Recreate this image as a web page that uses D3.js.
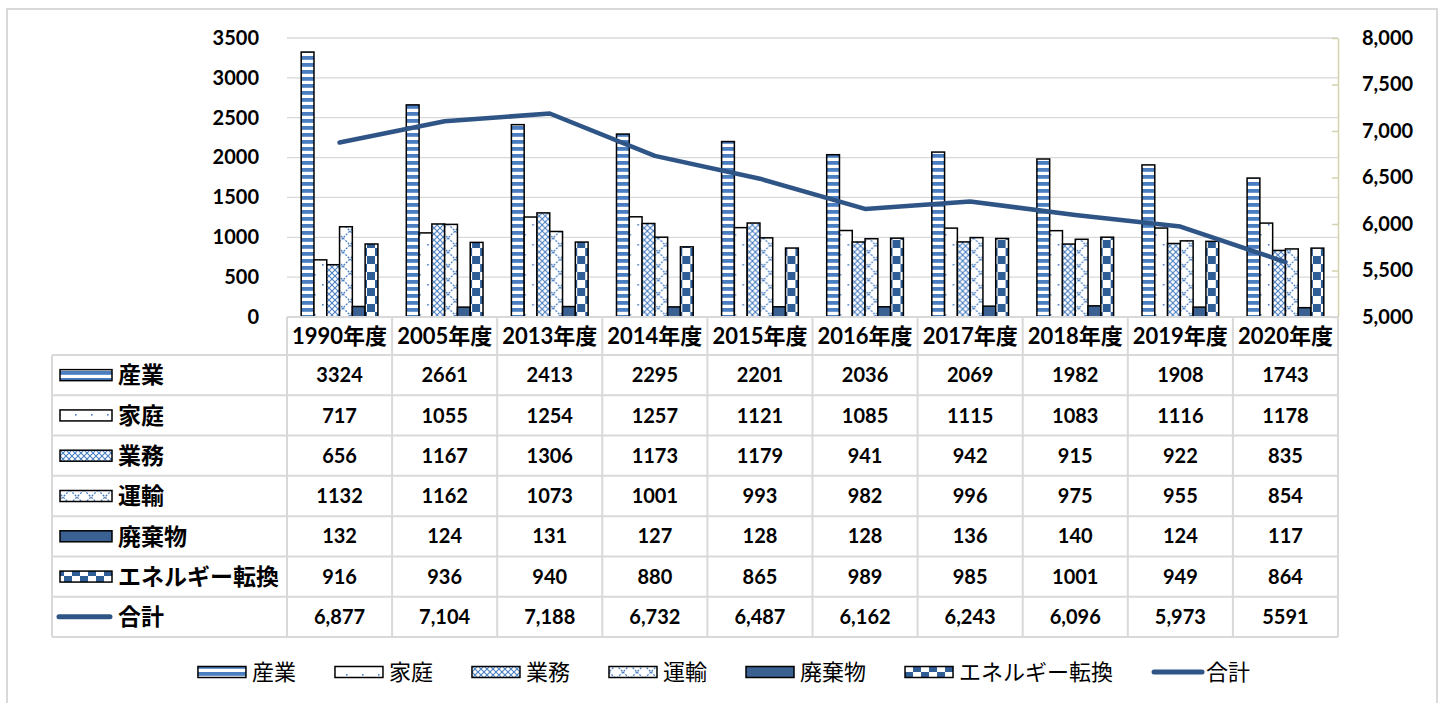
<!DOCTYPE html>
<html><head><meta charset="utf-8">
<script src="https://cdn.jsdelivr.net/npm/d3@7"></script>
<style>
body{margin:0;background:#fff}
svg{display:block}
text{font-family:Lato,"Noto Sans CJK JP",sans-serif;fill:#000}
</style>
</head><body>
<svg id="c" width="1442" height="703"></svg>
<script>
const categories = ["1990年度","2005年度","2013年度","2014年度","2015年度","2016年度","2017年度","2018年度","2019年度","2020年度"];
const seriesNames = ["産業","家庭","業務","運輸","廃棄物","エネルギー転換"];
const sangyo = [3324,2661,2413,2295,2201,2036,2069,1982,1908,1743];
const katei = [717,1055,1254,1257,1121,1085,1115,1083,1116,1178];
const gyomu = [656,1167,1306,1173,1179,941,942,915,922,835];
const unyu = [1132,1162,1073,1001,993,982,996,975,955,854];
const haikibutsu = [132,124,131,127,128,128,136,140,124,117];
const energy = [916,936,940,880,865,989,985,1001,949,864];
const totalName = "合計";
const totals = [6877,7104,7188,6732,6487,6162,6243,6096,5973,5591];
const totalLabels = ["6,877","7,104","7,188","6,732","6,487","6,162","6,243","6,096","5,973","5591"];
const leftTicks = [0,500,1000,1500,2000,2500,3000,3500];
const rightTicks = [5000,5500,6000,6500,7000,7500,8000];

const seriesValues = [sangyo, katei, gyomu, unyu, haikibutsu, energy];

const svg = d3.select("#c");
const plotL = 287, plotR = 1338, plotT = 38, plotB = 317;
const tableL = 52, headB = 355, tableB = 637;
const blue = "#4A7EC1", dark = "#2F5D95", lineCol = "#2F5586", grid = "#D9D9D9";

// frame
svg.append("rect").attr("x",7).attr("y",9).attr("width",1430).attr("height",720)
  .attr("fill","#fff").attr("stroke","#D9D9D9").attr("stroke-width",2);

// patterns
const defs = svg.append("defs");
function pat(id,w,h){
  const p = defs.append("pattern").attr("id",id).attr("patternUnits","userSpaceOnUse").attr("width",w).attr("height",h);
  p.append("rect").attr("width",w).attr("height",h).attr("fill","#fff");
  return p;
}
let p = pat("p0",7,7); p.append("rect").attr("y",0).attr("width",7).attr("height",3.8).attr("fill",blue);
p = pat("p1",16,20);
p.append("rect").attr("x",3).attr("y",4).attr("width",1.6).attr("height",1.6).attr("fill",blue);
p.append("rect").attr("x",11).attr("y",14).attr("width",1.6).attr("height",1.6).attr("fill",blue);
p = pat("p2",6,6);
p.append("path").attr("d","M0,0L6,6M6,0L0,6").attr("stroke",blue).attr("stroke-width",1.1);
p = pat("p3",14,14);
p.append("path").attr("d","M0,0L14,14M14,0L0,14").attr("stroke",blue).attr("stroke-width",1.3).attr("stroke-dasharray","2,1.4");
p = pat("p4",4,4); p.select("rect").attr("fill","#3A6191");
p = pat("p5",16,16);
p.append("rect").attr("width",8).attr("height",8).attr("fill",dark);
p.append("rect").attr("x",8).attr("y",8).attr("width",8).attr("height",8).attr("fill",dark);
const fills = ["url(#p0)","url(#p1)","url(#p2)","url(#p3)","url(#p4)","url(#p5)"];

// scales
const x0 = d3.scaleBand().domain(categories).range([plotL,plotR]).paddingInner(0).paddingOuter(0);
const bw = x0.bandwidth();
const x1 = d3.scaleBand().domain(seriesNames).range([bw*0.135, bw*0.865]);
const yL = d3.scaleLinear().domain([0,3500]).range([plotB,plotT]);
const yR = d3.scaleLinear().domain([5000,8000]).range([plotB,plotT]);

// gridlines
svg.append("g").selectAll("line").data(leftTicks.filter(d=>d>0)).join("line")
  .attr("x1",plotL).attr("x2",plotR).attr("y1",d=>yL(d)).attr("y2",d=>yL(d))
  .attr("stroke",grid).attr("stroke-width",1.3);

// left axis labels
const axL = svg.append("g").attr("transform",`translate(${plotL},0)`)
  .call(d3.axisLeft(yL).tickValues(leftTicks).tickSize(0).tickPadding(28).tickFormat(d3.format("d")));
axL.select(".domain").remove();
axL.selectAll("text").attr("font-size",20).attr("font-weight","bold").attr("fill","#000");

// right axis
const axR = svg.append("g").attr("transform",`translate(${plotR},0)`)
  .call(d3.axisRight(yR).tickValues(rightTicks).tickSize(0).tickPadding(24).tickFormat(d3.format(",")));
axR.select(".domain").attr("stroke","#D6D1AE").attr("stroke-width",1.5);
axR.selectAll("text").attr("font-size",20).attr("font-weight","bold").attr("fill","#000");
axR.selectAll(".tick").append("line").attr("x1",-6).attr("x2",0).attr("stroke","#D6D1AE").attr("stroke-width",1.5);

// bars
const groups = svg.append("g").selectAll("g").data(categories).join("g")
  .attr("transform",d=>`translate(${x0(d)},0)`);
groups.selectAll("rect").data((c,i)=>seriesNames.map((s,j)=>({s,j,v:seriesValues[j][i]}))).join("rect")
  .attr("x",d=>x1(d.s)).attr("width",x1.bandwidth())
  .attr("y",d=>yL(d.v)).attr("height",d=>plotB-yL(d.v))
  .attr("fill",d=>fills[d.j]).attr("stroke","#000").attr("stroke-width",1.5);

// total line
const line = d3.line().x((d,i)=>x0(categories[i])+bw/2).y(d=>yR(d));
svg.append("path").datum(totals).attr("d",line).attr("fill","none")
  .attr("stroke",lineCol).attr("stroke-width",4.5).attr("stroke-linecap","round").attr("stroke-linejoin","round");

// table
const rowLabels = seriesNames.concat([totalName]);
const rowData = seriesValues.map(a=>a.map(v=>String(v))).concat([totalLabels]);
const rowH = (tableB-headB)/rowLabels.length;
const tg = svg.append("g");
const tl = (a,b,c,d)=>tg.append("line").attr("x1",a).attr("y1",b).attr("x2",c).attr("y2",d).attr("stroke",grid).attr("stroke-width",2);
tl(plotL,plotB,plotR,plotB);
for(let r=0;r<=rowLabels.length;r++) tl(tableL,headB+r*rowH,plotR,headB+r*rowH);
tl(tableL,headB,tableL,tableB);
categories.forEach(c=>tl(x0(c),plotB,x0(c),tableB));
tl(plotR,plotB,plotR,tableB);

tg.selectAll("text.h").data(categories).join("text").attr("class","h")
  .attr("x",d=>x0(d)+bw/2).attr("y",(plotB+headB)/2).attr("dy","0.36em")
  .attr("text-anchor","middle").attr("font-size",22).attr("font-weight","bold").text(d=>d);

rowData.forEach((arr,r)=>{
  const cy = headB + r*rowH + rowH/2;
  tg.append("g").selectAll("text").data(arr).join("text")
    .attr("x",(d,i)=>x0(categories[i])+bw/2).attr("y",cy).attr("dy","0.36em")
    .attr("text-anchor","middle").attr("font-size",20).attr("font-weight","bold").text(d=>d);
  tg.append("text").attr("x",118).attr("y",cy).attr("dy","0.36em")
    .attr("font-size",23).attr("font-weight","bold").text(rowLabels[r]);
  if(r<fills.length){
    tg.append("rect").attr("x",60).attr("y",cy-5.5).attr("width",52).attr("height",11)
      .attr("fill",fills[r]).attr("stroke","#000").attr("stroke-width",1.5);
  } else {
    tg.append("line").attr("x1",59).attr("x2",110).attr("y1",cy).attr("y2",cy)
      .attr("stroke",lineCol).attr("stroke-width",5).attr("stroke-linecap","round");
  }
});

// legend
const lg = svg.append("g");
const ly = 672;
const items = lg.selectAll("g").data(rowLabels).join("g");
items.append("text").attr("x",54).attr("y",ly).attr("dy","0.36em").attr("font-size",22).text(d=>d);
items.each(function(d,i){
  const g = d3.select(this);
  if(i<fills.length){
    g.append("rect").attr("x",0).attr("y",ly-5.5).attr("width",48).attr("height",11)
     .attr("fill",fills[i]).attr("stroke","#000").attr("stroke-width",1.5);
  } else {
    g.append("line").attr("x1",2).attr("x2",50).attr("y1",ly).attr("y2",ly)
     .attr("stroke",lineCol).attr("stroke-width",5).attr("stroke-linecap","round");
  }
});
const widths = [];
items.each(function(){ widths.push(54 + d3.select(this).select("text").node().getComputedTextLength()); });
const gap = 39;
const total = d3.sum(widths) + gap*(widths.length-1);
let cx = 724 - total/2;
items.attr("transform",(d,i)=>{ const t=`translate(${cx},0)`; cx += widths[i]+gap; return t; });
</script>
</body></html>
